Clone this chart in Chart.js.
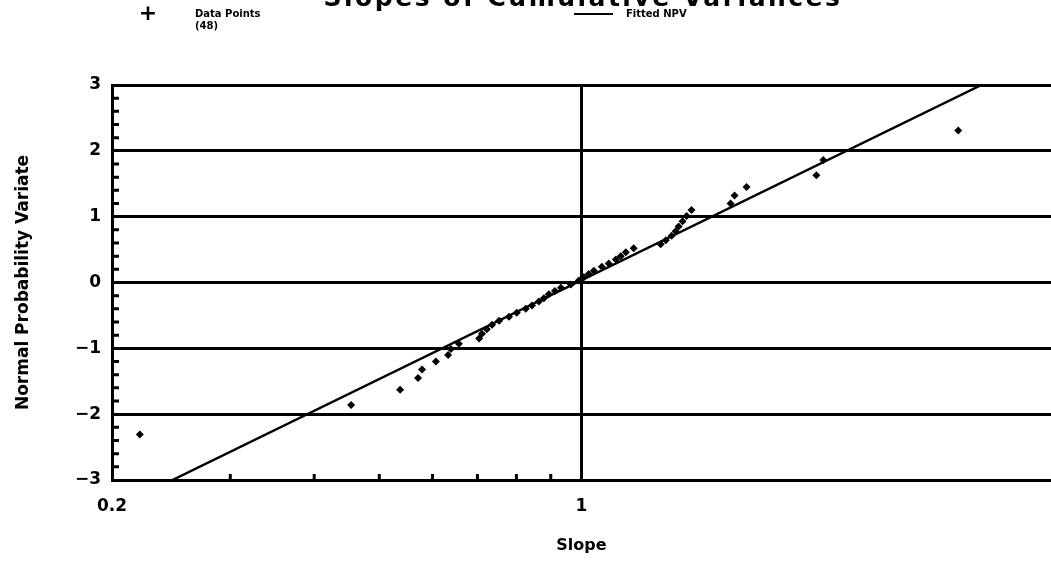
<!DOCTYPE html>
<html>
<head>
<meta charset="utf-8">
<script src="https://cdn.jsdelivr.net/npm/chart.js@4"></script>
<style>
  body { margin: 0; background: #fff; }
  #wrap { width: 1051px; height: 570px; }
</style>
</head>
<body>
<div id="wrap"><canvas id="chart" width="1051" height="570"></canvas></div>
<script>
// slope values (x, log axis), sorted
const slopes = [0.220, 0.454, 0.537, 0.571, 0.579, 0.607, 0.633, 0.639,
  0.657, 0.704, 0.711, 0.723, 0.736, 0.754, 0.780, 0.801,
  0.826, 0.844, 0.864, 0.879, 0.894, 0.913, 0.932, 0.964,
  0.991, 1.008, 1.025, 1.043, 1.072, 1.098, 1.125, 1.144,
  1.164, 1.196, 1.312, 1.335, 1.362, 1.381, 1.395, 1.414,
  1.434, 1.458, 1.667, 1.690, 1.761, 2.237, 2.291, 3.638];
// normal probability variate for each point
const npv = [-2.31, -1.86, -1.63, -1.45, -1.32, -1.20, -1.10, -1.01,
  -0.93, -0.85, -0.78, -0.71, -0.64, -0.58, -0.52, -0.46,
  -0.40, -0.35, -0.29, -0.24, -0.18, -0.13, -0.08, -0.03,
  0.03, 0.08, 0.13, 0.18, 0.24, 0.29, 0.35, 0.40,
  0.46, 0.52, 0.58, 0.64, 0.71, 0.78, 0.85, 0.93,
  1.01, 1.10, 1.20, 1.32, 1.45, 1.63, 1.86, 2.31];
// fitted NPV line end points
const fitSlope = [0.246, 3.94];
const fitNpv = [-3, 3];

const xTicks = [0.2, 1];
const xMinorTicks = [0.3, 0.4, 0.5, 0.6, 0.7, 0.8, 0.9];
const yTicks = [-3, -2, -1, 0, 1, 2, 3];

const titleText = "Slopes of Cumulative Variances";
const pointsLabel = ["Data Points", "(48)"];
const lineLabel = "Fitted NPV";

const FONT = "'DejaVu Sans', sans-serif";

// extra drawing: clipped title, legend, minor ticks
const decor = {
  id: "decor",
  afterDraw(c) {
    const ctx = c.ctx;
    const xs = c.scales.x, ys = c.scales.y, a = c.chartArea;
    ctx.save();
    ctx.fillStyle = "#000";
    ctx.strokeStyle = "#000";

    // title, top half cut off by the page edge
    ctx.font = "bold 25px " + FONT;
    ctx.letterSpacing = "2.5px";
    ctx.textAlign = "center";
    ctx.textBaseline = "alphabetic";
    ctx.fillText(titleText, 583, 6);
    ctx.letterSpacing = "0px";

    // legend
    ctx.font = "bold 22px " + FONT;
    ctx.textBaseline = "middle";
    ctx.fillText("+", 148, 14);
    ctx.textAlign = "left";
    ctx.font = "bold 10px " + FONT;
    ctx.fillText(pointsLabel[0], 195, 14);
    ctx.fillText(pointsLabel[1], 195, 26);
    ctx.fillText(lineLabel, 626, 14);
    ctx.lineWidth = 2;
    ctx.beginPath();
    ctx.moveTo(574, 14);
    ctx.lineTo(613, 14);
    ctx.stroke();

    // minor ticks
    ctx.lineWidth = 3;
    ctx.beginPath();
    for (let i = -30; i <= 30; i += 2) {
      if (i % 10 === 0) continue;
      const py = ys.getPixelForValue(i / 10);
      ctx.moveTo(a.left, py);
      ctx.lineTo(a.left + 7, py);
    }
    xMinorTicks.forEach(v => {
      const px = xs.getPixelForValue(v);
      ctx.moveTo(px, a.bottom);
      ctx.lineTo(px, a.bottom - 6);
    });
    ctx.stroke();
    ctx.restore();
  }
};

new Chart(document.getElementById("chart"), {
  type: "scatter",
  data: {
    datasets: [{
      label: "Data Points",
      data: slopes.map((s, i) => ({ x: s, y: npv[i] })),
      pointStyle: "rectRot",
      pointRadius: 4,
      backgroundColor: "#000",
      borderColor: "#000",
      borderWidth: 0
    }, {
      label: "Fitted NPV",
      data: fitSlope.map((s, i) => ({ x: s, y: fitNpv[i] })),
      showLine: true,
      pointRadius: 0,
      borderColor: "#000",
      borderWidth: 2.5
    }]
  },
  options: {
    responsive: false,
    animation: false,
    layout: { autoPadding: false, padding: { top: 85, right: 0, left: 0, bottom: 0 } },
    plugins: {
      legend: { display: false },
      tooltip: { enabled: false }
    },
    scales: {
      x: {
        type: "logarithmic",
        min: 0.2,
        max: 5,
        afterBuildTicks: s => { s.ticks = xTicks.map(v => ({ value: v })); },
        afterFit: s => { s.height = 90; },
        ticks: {
          color: "#000",
          font: { family: FONT, size: 17, weight: "bold" },
          padding: 16,
          maxRotation: 0,
          callback: v => String(v)
        },
        grid: { color: "#000", lineWidth: 3, drawTicks: false },
        border: { color: "#000", width: 3 },
        title: {
          display: true,
          text: "Slope",
          color: "#000",
          font: { family: FONT, size: 16, weight: "bold" },
          padding: { bottom: 15 }
        }
      },
      y: {
        min: -3,
        max: 3,
        afterBuildTicks: s => { s.ticks = yTicks.map(v => ({ value: v })); },
        afterFit: s => { s.width = 112; },
        ticks: {
          color: "#000",
          font: { family: FONT, size: 17, weight: "bold" },
          padding: 11,
          callback: v => v < 0 ? "\u2212" + Math.abs(v) : String(v)
        },
        grid: { color: "#000", lineWidth: 3, drawTicks: false },
        border: { color: "#000", width: 3 },
        title: {
          display: true,
          text: "Normal Probability Variate",
          color: "#000",
          font: { family: FONT, size: 17, weight: "bold" },
          padding: { top: 13 }
        }
      }
    }
  },
  plugins: [decor]
});
</script>
</body>
</html>
